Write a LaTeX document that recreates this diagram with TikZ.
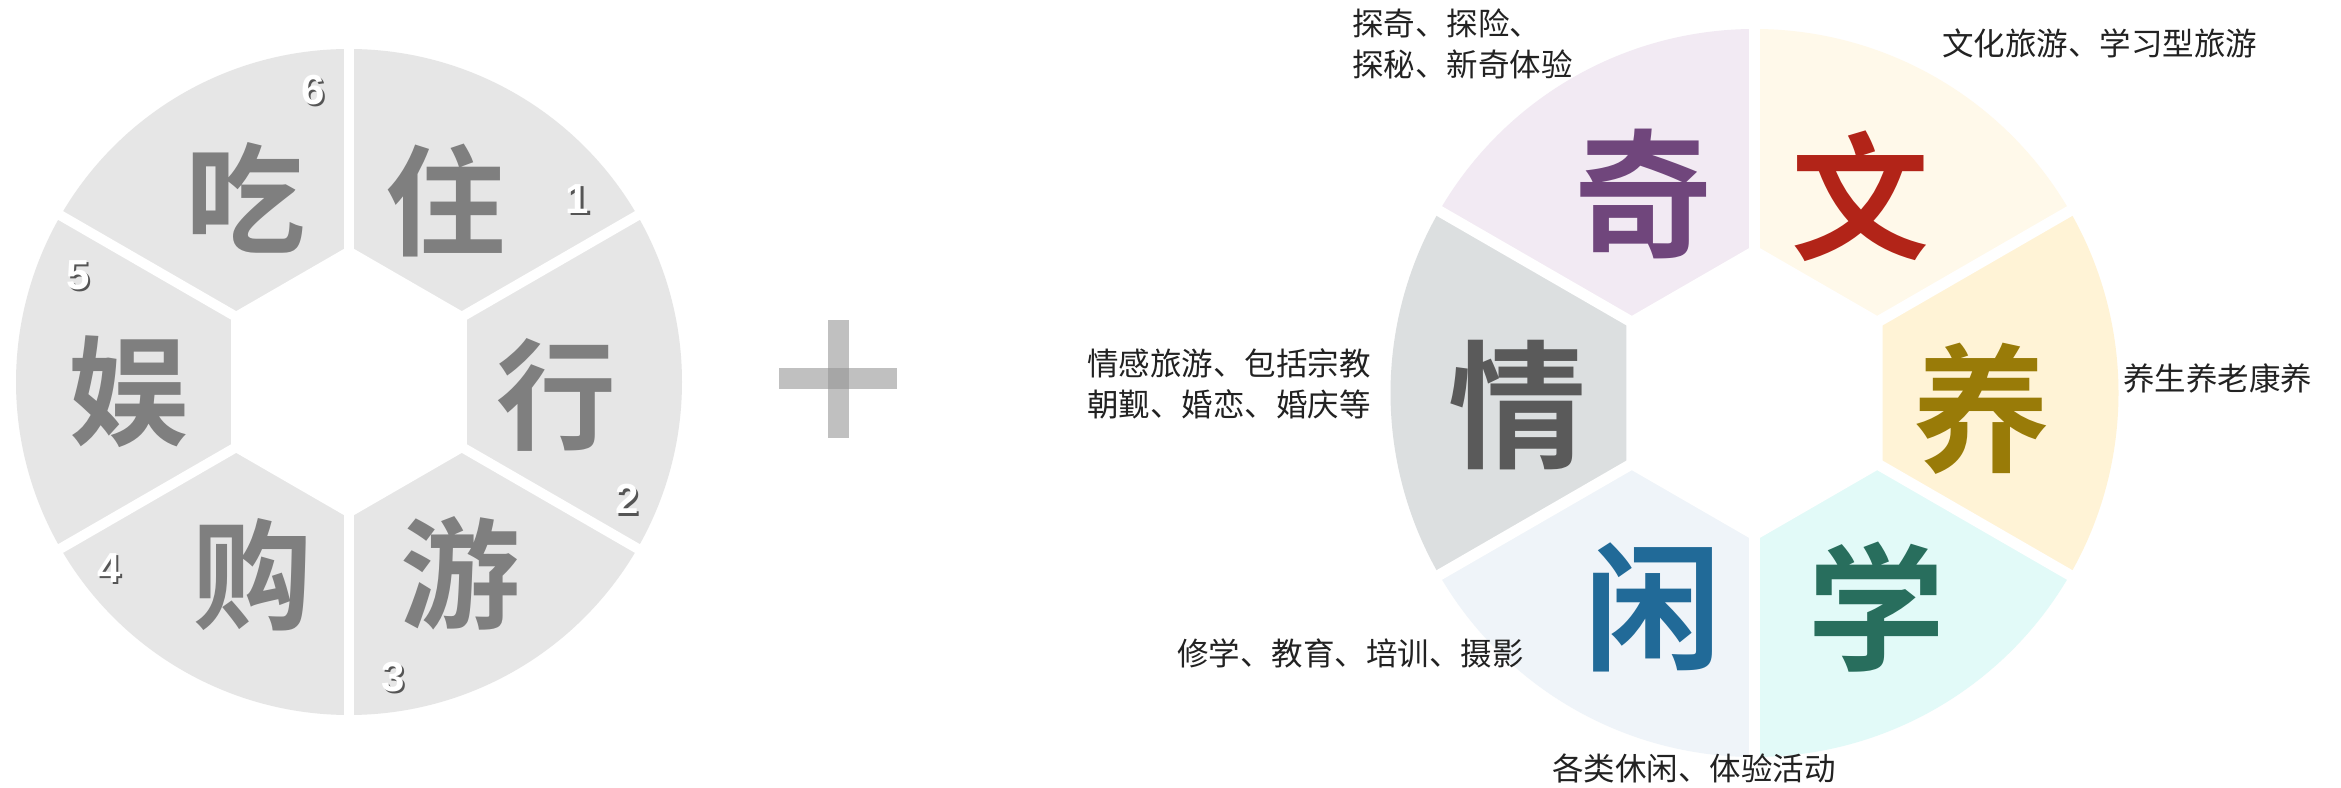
\documentclass[tikz,border=0pt]{standalone}
\usepackage{fontspec}
\setmainfont{Liberation Sans}
\newfontfamily\cjk{Noto Sans CJK SC}
\newfontfamily\cjkb{Noto Sans CJK SC Bold}
\definecolor{lseg}{HTML}{E6E6E6}
\definecolor{lchar}{HTML}{7F7F7F}
\definecolor{plusc}{HTML}{C0C0C0}
\definecolor{plusd}{HTML}{A6A6A6}
\definecolor{segqi}{HTML}{F2EAF3}
\definecolor{segwen}{HTML}{FFF9EA}
\definecolor{segyang}{HTML}{FFF3D6}
\definecolor{segxue}{HTML}{E2FAF8}
\definecolor{segxian}{HTML}{EFF4F9}
\definecolor{segqing}{HTML}{DCDFE0}
\definecolor{chqi}{HTML}{70467C}
\definecolor{chwen}{HTML}{B22418}
\definecolor{chyang}{HTML}{997B08}
\definecolor{chxue}{HTML}{286E5D}
\definecolor{chxian}{HTML}{216A98}
\definecolor{chqing}{HTML}{5A5A5A}
\definecolor{lbl}{HTML}{222222}
\definecolor{shad}{HTML}{555555}
\tikzset{
  bigl/.style={font=\cjkb\fontsize{120}{120}\selectfont, text=lchar, inner sep=0, anchor=center},
  bigr/.style={font=\cjkb\fontsize{138}{138}\selectfont, inner sep=0, anchor=center},
  numtxt/.style={font=\bfseries\fontsize{42}{42}\selectfont, text=white, inner sep=0},
  numshadow/.style={font=\bfseries\fontsize{42}{42}\selectfont, text=shad, inner sep=0},
  lbltxt/.style={font=\cjk\fontsize{31.5}{41}\selectfont, text=lbl, inner sep=0, anchor=west, align=left},
}
\newcommand\wsector[5]{% center, start, end, radius, color
  \fill[#5] (#1) -- ++(#2:#4) arc[start angle=#2, end angle=#3, radius=#4] -- cycle;}
\newcommand\numlabel[3]{% name, position, text
  \node[numshadow] (#1s) at ($(#2)+(2.5,-2.5)$) {#3};
  \node[numtxt] (#1) at (#2) {#3};}
\usetikzlibrary{calc}
\begin{document}
\begin{tikzpicture}[x=1pt,y=1pt]
\useasboundingbox (0,0) rectangle (2341,787);
\fill[white] (0,0) rectangle (2341,787);
% ---------- left wheel ----------
\coordinate (L) at (349,405);
\foreach \a in {-150,-90,-30,30,90,150} {\wsector{L}{\a}{\a+60}{333}{lseg}}
\fill[white] (L) +(30:136) -- +(90:136) -- +(150:136) -- +(210:136) -- +(270:136) -- +(330:136) -- cycle;
\foreach \a in {30,90,150,210,270,330} {\draw[white, line width=10] (L) -- +(\a:336);}
\node[bigl] (chi)  at (245.5,589) {吃};
\node[bigl] (zhu)  at (445,586.5) {住};
\node[bigl] (xing) at (556,392) {行};
\node[bigl] (you)  at (460,214) {游};
\node[bigl] (gou)  at (252,212) {购};
\node[bigl] (yu)   at (128,395) {娱};
\coordinate (p1) at (577.5,588);
\coordinate (p2) at (627,288);
\coordinate (p3) at (393,110);
\coordinate (p4) at (109,219);
\coordinate (p5) at (78,512);
\coordinate (p6) at (313,697);
\numlabel{n1}{p1}{1}
\numlabel{n2}{p2}{2}
\numlabel{n3}{p3}{3}
\numlabel{n4}{p4}{4}
\numlabel{n5}{p5}{5}
\numlabel{n6}{p6}{6}
% ---------- plus ----------
\fill[plusc] (779,398) rectangle (897,419);
\fill[plusc] (828,349) rectangle (849,467);
\fill[plusd] (828,398) rectangle (849,419);
% ---------- right wheel ----------
\coordinate (R) at (1754.5,394);
\wsector{R}{90}{150}{364}{segqi}
\wsector{R}{30}{90}{364}{segwen}
\wsector{R}{-30}{30}{364}{segyang}
\wsector{R}{-90}{-30}{364}{segxue}
\wsector{R}{-150}{-90}{364}{segxian}
\wsector{R}{150}{210}{364}{segqing}
\fill[white] (R) +(30:148) -- +(90:148) -- +(150:148) -- +(210:148) -- +(270:148) -- +(330:148) -- cycle;
\foreach \a in {30,90,150,210,270,330} {\draw[white, line width=11] (R) -- +(\a:367);}
\node[bigr, text=chqi]   (qi)   at (1643,593) {奇};
\node[bigr, text=chwen]  (wen)  at (1860.6,591) {文};
\node[bigr, text=chyang] (yang) at (1981,378) {养};
\node[bigr, text=chxue]  (xue)  at (1876,180) {学};
\node[bigr, text=chxian] (xian) at (1653,180) {闲};
\node[bigr, text=chqing] (qing) at (1517,381.5) {情};
% ---------- labels ----------
\node[lbltxt] (tqi)   at (1352,743) {探奇、探险、\\探秘、新奇体验};
\node[lbltxt] (twen)  at (1942,744) {文化旅游、学习型旅游};
\node[lbltxt] (tyang) at (2123,409) {养生养老康养};
\node[lbltxt] (tqing) at (1087,403) {情感旅游、包括宗教\\朝觐、婚恋、婚庆等};
\node[lbltxt] (txue)  at (1177,134) {修学、教育、培训、摄影};
\node[lbltxt] (txian) at (1552,19)  {各类休闲、体验活动};
\end{tikzpicture}
\end{document}
